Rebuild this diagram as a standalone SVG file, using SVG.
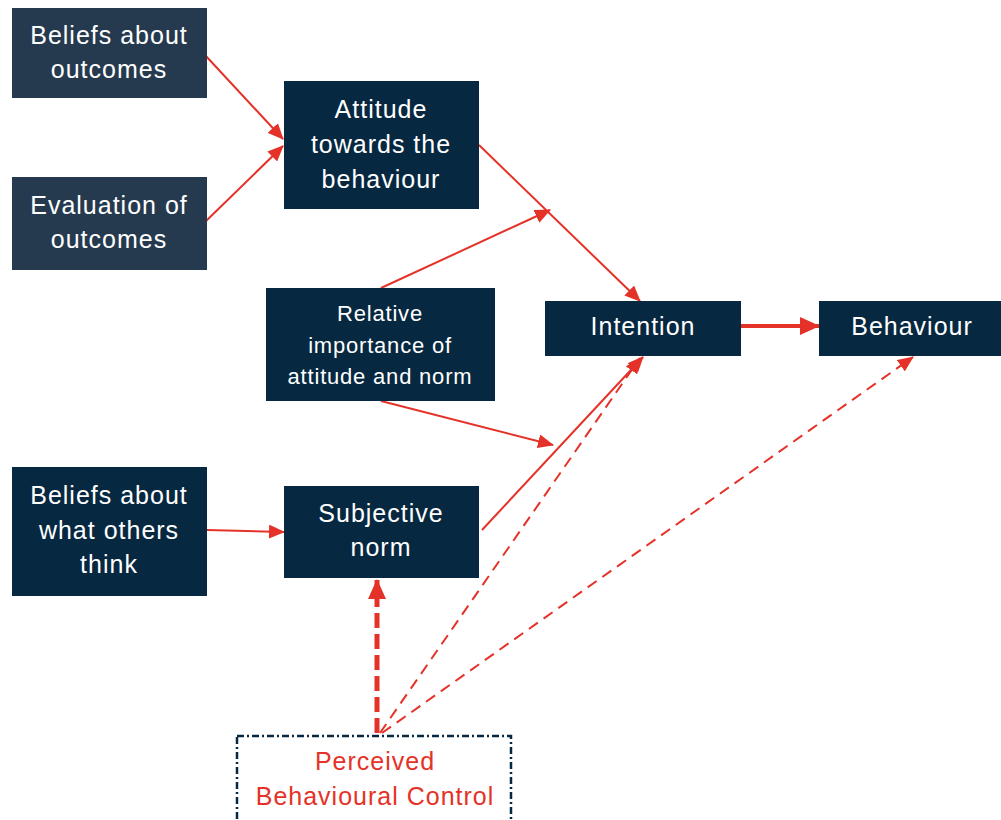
<svg xmlns="http://www.w3.org/2000/svg" width="1001" height="820" viewBox="0 0 1001 820">
<style>
.n1{fill:#263a4f}
.n2{fill:#062841}
.t{font-family:"Liberation Sans",Arial,sans-serif;font-size:25px;fill:#ffffff;text-anchor:middle;letter-spacing:1px}
.ts{font-size:22px;letter-spacing:0.8px}
.tr{fill:#e53228}
.c{stroke:#e53228;stroke-width:2;fill:none}
.cb{stroke:#e53228;stroke-width:4;fill:none}
.d{stroke:#e53228;stroke-width:2;fill:none;stroke-dasharray:11 7}
.dt{stroke:#e53228;stroke-width:5;fill:none;stroke-dasharray:15 6}
</style>
<defs>
<marker id="ah" markerUnits="userSpaceOnUse" markerWidth="16" markerHeight="14" refX="15" refY="7" orient="auto">
<path d="M0,0 L16,7 L0,14 Z" fill="#e53228"/>
</marker>
<marker id="ahb" markerUnits="userSpaceOnUse" markerWidth="20" markerHeight="18" refX="19" refY="9" orient="auto">
<path d="M0,0 L20,9 L0,18 Z" fill="#e53228"/>
</marker>
</defs>
<rect width="1001" height="820" fill="#ffffff"/>
<g id="connectors">
<line class="c" x1="205" y1="55" x2="283" y2="139" marker-end="url(#ah)"/>
<line class="c" x1="205" y1="222" x2="283" y2="146" marker-end="url(#ah)"/>
<line class="c" x1="479" y1="145" x2="640" y2="301" marker-end="url(#ah)"/>
<line class="c" x1="381" y1="288" x2="550" y2="210" marker-end="url(#ah)"/>
<line class="c" x1="381" y1="401" x2="553" y2="445" marker-end="url(#ah)"/>
<line class="c" x1="482" y1="530" x2="643" y2="357" marker-end="url(#ah)"/>
<line class="cb" x1="741" y1="326" x2="819" y2="326" marker-end="url(#ahb)"/>
<line class="c" x1="207" y1="530" x2="284" y2="532" marker-end="url(#ah)"/>
<line class="dt" x1="377" y1="733" x2="377" y2="580" marker-end="url(#ahb)"/>
<line class="d" x1="380" y1="733" x2="640" y2="358" marker-end="url(#ah)"/>
<line class="d" x1="382" y1="733" x2="913" y2="357" marker-end="url(#ah)"/>
</g>
<g id="beliefs-outcomes">
<rect class="n1" x="12" y="8" width="195" height="90"/>
<text class="t" x="109" y="44">Beliefs about</text>
<text class="t" x="109" y="78">outcomes</text>
</g>
<g id="evaluation-outcomes">
<rect class="n1" x="12" y="177" width="195" height="93"/>
<text class="t" x="109" y="214">Evaluation of</text>
<text class="t" x="109" y="248">outcomes</text>
</g>
<g id="attitude">
<rect class="n2" x="284" y="81" width="195" height="128"/>
<text class="t" x="381" y="118">Attitude</text>
<text class="t" x="381" y="153">towards the</text>
<text class="t" x="381" y="188">behaviour</text>
</g>
<g id="relative-importance">
<rect class="n2" x="266" y="288" width="229" height="113"/>
<text class="t ts" x="380" y="321">Relative</text>
<text class="t ts" x="380" y="353">importance of</text>
<text class="t ts" x="380" y="384">attitude and norm</text>
</g>
<g id="intention">
<rect class="n2" x="545" y="301" width="196" height="55"/>
<text class="t" x="643" y="335">Intention</text>
</g>
<g id="behaviour">
<rect class="n2" x="819" y="301" width="182" height="55"/>
<text class="t" x="912" y="335">Behaviour</text>
</g>
<g id="beliefs-others">
<rect class="n2" x="12" y="467" width="195" height="129"/>
<text class="t" x="109" y="504">Beliefs about</text>
<text class="t" x="109" y="539">what others</text>
<text class="t" x="109" y="573">think</text>
</g>
<g id="subjective-norm">
<rect class="n2" x="284" y="486" width="195" height="92"/>
<text class="t" x="381" y="522">Subjective</text>
<text class="t" x="381" y="556">norm</text>
</g>
<g id="pbc">
<rect x="237" y="736" width="274" height="90" fill="none" stroke="#062841" stroke-width="2.5" stroke-dasharray="7 3 2 3"/>
<text class="t tr" x="375" y="770">Perceived</text>
<text class="t tr" x="375" y="805">Behavioural Control</text>
</g>
</svg>
